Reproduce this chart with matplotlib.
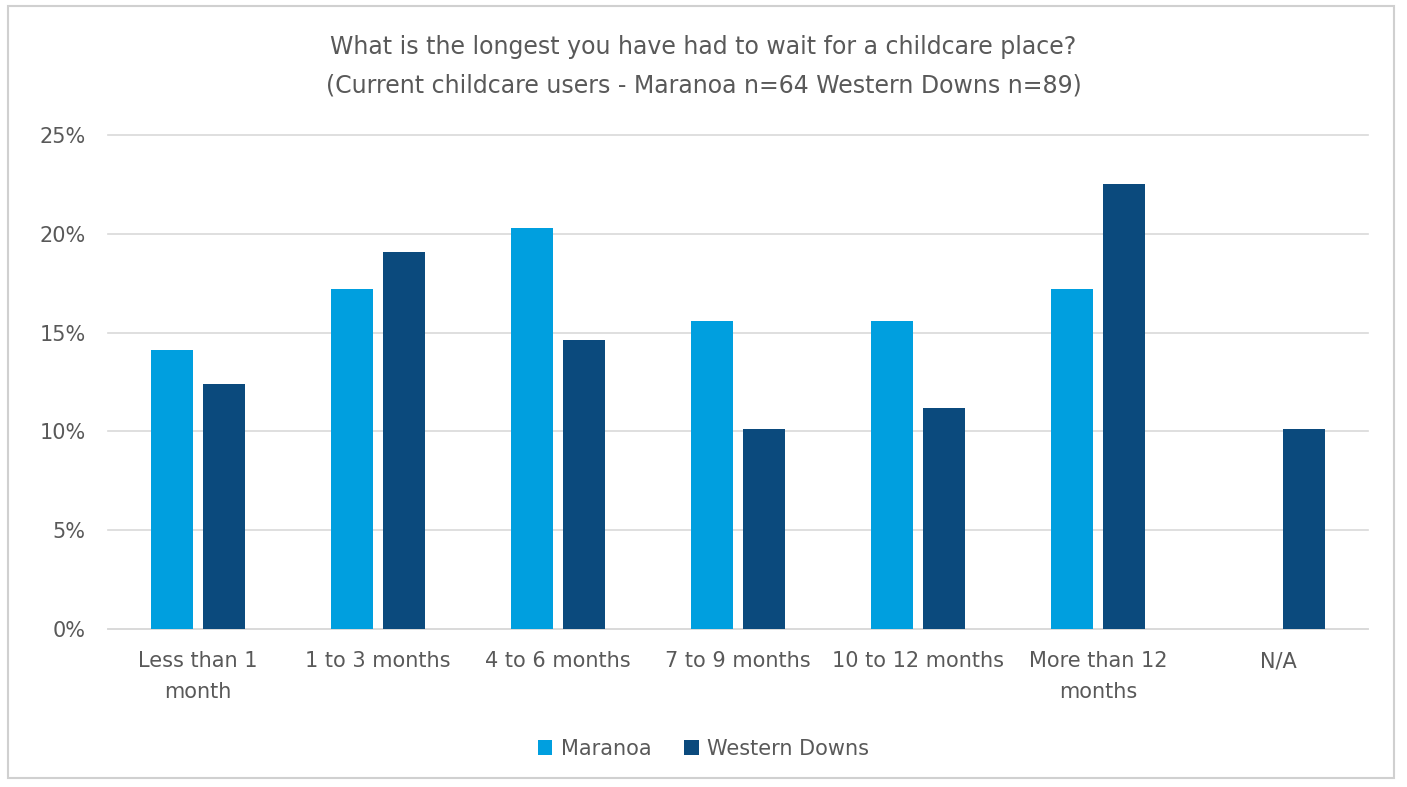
import matplotlib.pyplot as plt
import numpy as np
from matplotlib.patches import Rectangle
from matplotlib.ticker import FuncFormatter, MultipleLocator

categories = ["Less than 1\nmonth", "1 to 3 months", "4 to 6 months", "7 to 9 months",
              "10 to 12 months", "More than 12\nmonths", "N/A"]
maranoa = [14.1, 17.2, 20.3, 15.6, 15.6, 17.2, 0.0]
western_downs = [12.4, 19.1, 14.6, 10.1, 11.2, 22.5, 10.1]

C_MAR = "#009FDF"
C_WD = "#0B4A7D"
TXT = "#595959"

plt.rcParams["font.family"] = ["DejaVu Sans"]

fig = plt.figure(figsize=(14.07, 7.87), dpi=100)
ax = fig.add_axes([0.0768, 0.2008, 0.8955, 0.6277])

x = np.arange(len(categories))
w = 0.23
ax.bar(x - 0.145, maranoa, w, color=C_MAR, label="Maranoa", zorder=3)
ax.bar(x + 0.145, western_downs, w, color=C_WD, label="Western Downs", zorder=3)

ax.set_xlim(-0.5, len(categories) - 0.5)
ax.set_ylim(0, 25)
ax.yaxis.set_major_locator(MultipleLocator(5))
ax.yaxis.set_major_formatter(FuncFormatter(lambda v, p: f"{v:.0f}%"))
ax.grid(axis="y", color="#D9D9D9", lw=1.2, zorder=0)
for gl in ax.get_ygridlines():
    gl.set_clip_on(False)
for s in ["top", "right", "left"]:
    ax.spines[s].set_visible(False)
ax.spines["bottom"].set_color("#D9D9D9")
ax.spines["bottom"].set_linewidth(1.2)
ax.tick_params(length=0, colors=TXT, labelsize=15)
ax.tick_params(axis="y", pad=16)
ax.tick_params(axis="x", pad=16)
ax.set_xticks(x)
ax.set_xticklabels(categories, linespacing=1.65)

fig.suptitle("What is the longest you have had to wait for a childcare place?\n"
             "(Current childcare users - Maranoa n=64 Western Downs n=89)",
             y=0.955, fontsize=17, color=TXT, linespacing=1.75)

ax.legend(loc="center", bbox_to_anchor=(0.5, 0.0485), bbox_transform=fig.transFigure,
          ncol=2, frameon=False, fontsize=15, labelcolor=TXT,
          handlelength=0.7, handleheight=0.7, handletextpad=0.4, columnspacing=1.6)

fig.patches.append(Rectangle((0.006, 0.012), 0.985, 0.981, transform=fig.transFigure,
                             fill=False, edgecolor="#D0D0D0", lw=1.5))

fig.savefig("out.png", dpi=100)
